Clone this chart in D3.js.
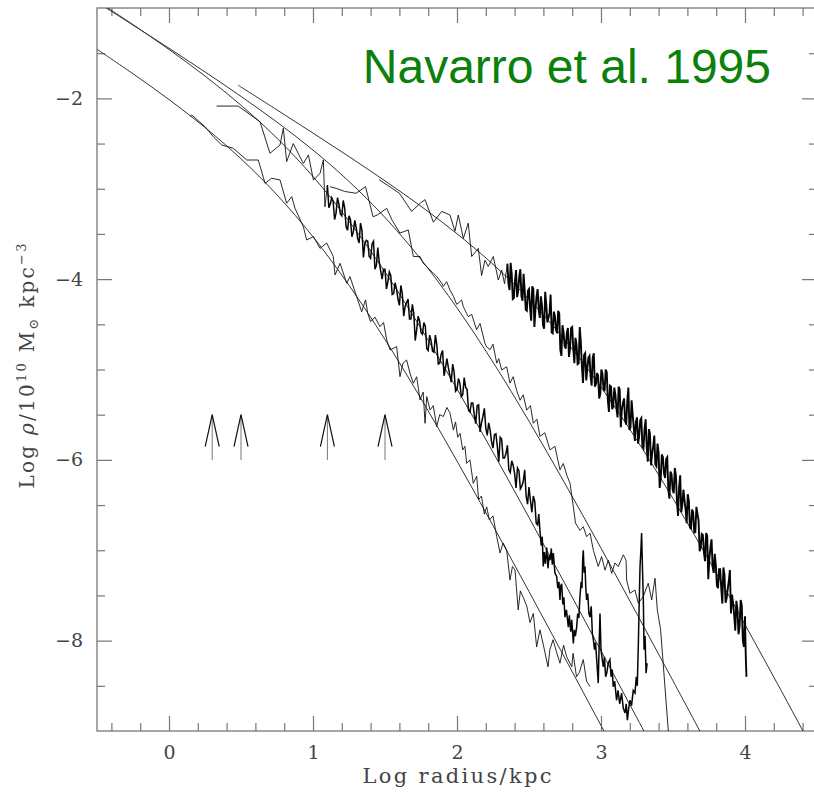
<!DOCTYPE html>
<html><head><meta charset="utf-8">
<script src="https://cdn.jsdelivr.net/npm/d3@7"></script>
<style>body{margin:0;background:#fff}svg{display:block}</style>
</head><body>
<svg id="chart" width="814" height="798"></svg>
<script>
// ---------- axes / ticks ----------
const xDomain = [-0.5, 4.5];
const yDomain = [-9, -1];
const xMajor = [0, 1, 2, 3, 4];
const xMinor = [-0.4, -0.2, 0.2, 0.4, 0.6, 0.8, 1.2, 1.4, 1.6, 1.8, 2.2, 2.4, 2.6, 2.8, 3.2, 3.4, 3.6, 3.8, 4.2, 4.4];
const yMajor = [-8, -6, -4, -2];
const yMinor = [-8.5, -7.5, -7, -6.5, -5.5, -5, -4.5, -3.5, -3, -2.5, -1.5];
const xTitle = "Log radius/kpc";
const titleText = "Navarro et al. 1995";

// ---------- arrows (log r positions, from / to in log rho) ----------
const arrowX = [0.3, 0.5, 1.1, 1.5];
const arrowY = [-6.0, -5.5];

// ---------- smooth fitted profiles [log r, log rho] ----------
const fitA = [[0.48,-1.854],[0.75,-2.128],[1.0,-2.384],[1.25,-2.644],[1.5,-2.913],[1.75,-3.194],[2.0,-3.498],[2.25,-3.836],[2.5,-4.223],[2.75,-4.674],[3.0,-5.195],[3.25,-5.784],[3.5,-6.428],[3.75,-7.112],[4.0,-7.823],[4.25,-8.550],[4.4,-8.992],[4.5,-9.29]];
const fitB = [[-0.5,-0.935],[-0.25,-1.189],[0,-1.445],[0.25,-1.707],[0.5,-1.978],[0.75,-2.263],[1.0,-2.572],[1.25,-2.919],[1.5,-3.318],[1.75,-3.782],[2.0,-4.318],[2.25,-4.919],[2.5,-5.572],[2.75,-6.263],[3.0,-6.977],[3.25,-7.707],[3.5,-8.445],[3.75,-9.189]];
const fitC = [[-0.5,-0.92],[-0.25,-1.184],[0,-1.459],[0.25,-1.753],[0.5,-2.076],[0.75,-2.441],[1.0,-2.865],[1.25,-3.358],[1.5,-3.921],[1.75,-4.545],[2.0,-5.215],[2.25,-5.916],[2.5,-6.638],[2.75,-7.372],[3.0,-8.112],[3.25,-8.857],[3.5,-9.60]];
const fitD = [[-0.5,-1.457],[-0.25,-1.728],[0,-2.013],[0.25,-2.322],[0.5,-2.669],[0.75,-3.068],[1.0,-3.532],[1.25,-4.068],[1.5,-4.669],[1.75,-5.322],[2.0,-6.013],[2.25,-6.727],[2.5,-7.457],[2.75,-8.195],[3.0,-8.939],[3.25,-9.68]];

// ---------- simulated profiles [log r, log rho] ----------
const dataA = [[1.46,-2.90],[1.535,-2.98],[1.60,-3.05],[1.685,-3.25],[1.745,-3.16],[1.778,-3.12],[1.836,-3.37],[1.894,-3.25],[1.951,-3.29],[1.986,-3.47],[2.009,-3.29],[2.044,-3.55],[2.078,-3.38],[2.102,-3.75],[2.148,-3.66],[2.171,-3.96],[2.194,-3.79],[2.217,-3.86],[2.252,-3.75],[2.287,-4.01],[2.31,-3.90],[2.33,-4.05],
[2.350,-3.83],[2.3575,-4.05],[2.365,-4.12],[2.3725,-3.82],[2.380,-3.94],[2.3875,-4.22],[2.395,-4.21],[2.4025,-4.02],[2.410,-3.90],[2.4175,-4.20],[2.425,-4.13],[2.4325,-3.97],[2.440,-3.89],[2.4475,-4.19],[2.455,-4.24],[2.4625,-3.94],[2.470,-4.12],[2.4775,-4.34],[2.485,-4.35],[2.4925,-4.13],
[2.500,-4.11],[2.5075,-4.32],[2.515,-4.46],[2.5225,-4.08],[2.530,-4.11],[2.5375,-4.53],[2.545,-4.33],[2.5525,-4.19],[2.560,-4.11],[2.5675,-4.34],[2.575,-4.43],[2.5825,-4.19],[2.590,-4.29],[2.5975,-4.51],[2.605,-4.55],[2.6125,-4.14],[2.620,-4.28],[2.6275,-4.48],[2.635,-4.43],[2.6425,-4.38],
[2.650,-4.17],[2.6575,-4.59],[2.665,-4.60],[2.6725,-4.36],[2.680,-4.41],[2.6875,-4.56],[2.695,-4.60],[2.7025,-4.35],[2.710,-4.38],[2.7175,-4.78],[2.725,-4.85],[2.7325,-4.51],[2.740,-4.59],[2.7475,-4.74],[2.755,-4.77],[2.7625,-4.60],[2.770,-4.54],[2.7775,-4.86],[2.785,-4.77],[2.7925,-4.54],
[2.800,-4.53],[2.8075,-4.77],[2.815,-4.93],[2.8225,-4.65],[2.830,-4.72],[2.8375,-4.94],[2.845,-4.93],[2.8525,-4.53],[2.860,-4.70],[2.8675,-4.97],[2.875,-5.15],[2.8825,-4.84],[2.890,-4.82],[2.8975,-5.12],[2.905,-4.99],[2.9125,-4.87],[2.920,-4.85],[2.9275,-5.07],[2.935,-5.18],[2.9425,-4.87],
[2.950,-4.82],[2.9575,-5.19],[2.965,-5.16],[2.9725,-5.04],[2.980,-5.07],[2.9875,-5.32],[2.995,-5.27],[3.0025,-5.00],[3.010,-5.05],[3.0175,-5.21],[3.025,-5.24],[3.0325,-5.00],[3.040,-5.03],[3.0475,-5.34],[3.055,-5.47],[3.0625,-5.18],[3.070,-5.19],[3.0775,-5.44],[3.085,-5.41],[3.0925,-5.20],
[3.100,-5.28],[3.1075,-5.43],[3.115,-5.53],[3.1225,-5.19],[3.130,-5.22],[3.1375,-5.64],[3.145,-5.44],[3.1525,-5.37],[3.160,-5.32],[3.1675,-5.56],[3.175,-5.61],[3.1825,-5.35],[3.190,-5.20],[3.1975,-5.67],[3.205,-5.64],[3.2125,-5.34],[3.220,-5.50],[3.2275,-5.64],[3.235,-5.79],[3.2425,-5.58],
[3.250,-5.53],[3.2575,-5.82],[3.265,-5.74],[3.2725,-5.56],[3.280,-5.54],[3.2875,-5.85],[3.295,-5.87],[3.3025,-5.66],[3.310,-5.55],[3.3175,-5.86],[3.325,-6.02],[3.3325,-5.66],[3.340,-5.71],[3.3475,-6.06],[3.355,-5.93],[3.3625,-5.85],[3.370,-5.73],[3.3775,-6.05],[3.385,-6.07],[3.3925,-5.82],
[3.400,-5.92],[3.4075,-6.31],[3.415,-6.20],[3.4225,-5.94],[3.430,-5.97],[3.4375,-6.15],[3.445,-6.20],[3.4525,-5.99],[3.460,-5.97],[3.4675,-6.33],[3.475,-6.43],[3.4825,-6.13],[3.490,-6.16],[3.4975,-6.33],[3.505,-6.37],[3.5125,-6.09],[3.520,-6.17],[3.5275,-6.46],[3.535,-6.62],[3.5425,-6.30],
[3.550,-6.17],[3.5575,-6.58],[3.565,-6.49],[3.5725,-6.33],[3.580,-6.45],[3.5875,-6.55],[3.595,-6.70],[3.6025,-6.38],[3.610,-6.45],[3.6175,-6.75],[3.625,-6.76],[3.6325,-6.55],[3.640,-6.58],[3.6475,-6.80],[3.655,-6.80],[3.6625,-6.52],[3.670,-6.60],[3.6775,-6.67],[3.685,-7.01],[3.6925,-6.97],
[3.700,-6.82],[3.7075,-6.83],[3.715,-7.03],[3.7225,-7.12],[3.730,-6.81],[3.7375,-6.84],[3.745,-7.32],[3.7525,-7.09],[3.760,-6.97],[3.7675,-6.88],[3.775,-7.18],[3.7825,-7.25],[3.790,-7.04],[3.7975,-7.17],[3.805,-7.39],[3.8125,-7.42],[3.820,-7.21],[3.8275,-7.21],[3.835,-7.42],[3.8425,-7.59],
[3.850,-7.19],[3.8575,-7.27],[3.865,-7.58],[3.8725,-7.53],[3.880,-7.43],[3.8875,-7.34],[3.895,-7.22],[3.9025,-7.70],[3.910,-7.49],[3.9175,-7.59],[3.925,-7.72],[3.9325,-7.89],[3.940,-7.56],[3.9475,-7.65],[3.955,-7.93],[3.9625,-7.84],[3.970,-7.55],[3.9775,-7.61],[3.985,-8.00],[3.9925,-8.07],
[4.000,-7.73],[4.005,-8.15],[4.010,-8.40]];

const dataB = [[1.118,-2.977],[1.17,-3.0],[1.22,-3.03],[1.30,-3.05],[1.365,-2.977],[1.417,-3.31],[1.447,-3.29],[1.512,-3.216],[1.55,-3.35],[1.604,-3.49],[1.662,-3.456],[1.697,-3.75],[1.743,-3.75],[1.766,-3.825],[1.801,-3.88],[1.836,-3.935],[1.859,-3.97],[1.894,-4.046],[1.905,-4.08],[1.928,-4.028],[1.951,-4.12],[1.975,-4.19],[1.998,-4.28],[2.032,-4.23],[2.044,-4.305],[2.067,-4.38],[2.078,-4.415],[2.102,-4.39],[2.136,-4.56],[2.16,-4.49],[2.194,-4.71],[2.206,-4.75],[2.23,-4.78],[2.25,-4.72],[2.276,-4.93],[2.29,-4.88],[2.31,-5.005],[2.345,-4.97],[2.368,-5.15],[2.39,-5.08],[2.414,-5.23],[2.438,-5.34],[2.46,-5.28],[2.484,-5.45],[2.51,-5.40],[2.53,-5.595],[2.555,-5.55],[2.576,-5.74],[2.61,-5.70],[2.646,-5.89],[2.68,-5.85],[2.715,-6.11],[2.738,-6.04],[2.765,-6.18],[2.785,-6.26],[2.808,-6.52],[2.823,-6.70],[2.854,-6.78],[2.877,-6.74],[2.90,-6.85],[2.924,-6.81],[2.947,-7.0],[2.981,-7.18],[3.004,-7.07],[3.028,-7.22],[3.051,-7.11],[3.074,-7.255],[3.097,-7.14],[3.12,-7.18],[3.155,-7.05],[3.174,-7.11],[3.178,-7.33],[3.201,-7.476],[3.236,-7.44],[3.259,-7.587],[3.294,-7.51],[3.328,-7.365],[3.352,-7.55],[3.375,-7.31],[3.391,-7.66],[3.414,-7.88],[3.467,-8.99],[3.475,-9.2]];

const dataC = [[0.33,-2.085],[0.48,-2.085],[0.632,-2.258],[0.701,-2.608],[0.771,-2.516],[0.794,-2.331],[0.817,-2.70],[0.863,-2.50],[0.933,-2.72],[0.968,-2.626],[1.003,-2.903],[1.049,-2.83],[1.072,-2.68],[1.083,-3.20],
[1.10,-2.96],[1.11,-3.21],[1.12,-3.17],[1.13,-3.10],[1.14,-3.14],[1.15,-3.34],[1.16,-3.27],[1.17,-3.10],[1.18,-3.17],[1.19,-3.28],[1.20,-3.30],[1.21,-3.13],[1.22,-3.21],[1.23,-3.42],[1.24,-3.46],[1.25,-3.30],[1.26,-3.34],[1.27,-3.53],[1.28,-3.48],[1.29,-3.35],
[1.30,-3.43],[1.31,-3.55],[1.32,-3.60],[1.33,-3.38],[1.34,-3.46],[1.35,-3.76],[1.36,-3.61],[1.37,-3.57],[1.38,-3.58],[1.39,-3.75],[1.40,-3.77],[1.41,-3.61],[1.42,-3.58],[1.43,-3.89],[1.44,-3.85],[1.45,-3.65],[1.46,-3.81],[1.47,-3.91],[1.48,-4.00],[1.49,-3.89],
[1.50,-3.89],[1.51,-4.11],[1.52,-4.03],[1.53,-3.92],[1.54,-3.96],[1.55,-4.17],[1.56,-4.16],[1.57,-4.04],[1.58,-4.11],[1.59,-4.22],[1.60,-4.29],[1.61,-4.07],[1.62,-4.16],[1.63,-4.41],[1.64,-4.30],[1.65,-4.26],[1.66,-4.22],[1.67,-4.44],[1.68,-4.44],[1.69,-4.28],
[1.70,-4.38],[1.71,-4.68],[1.72,-4.56],[1.73,-4.41],[1.74,-4.46],[1.75,-4.59],[1.76,-4.61],[1.77,-4.48],[1.78,-4.52],[1.79,-4.77],[1.80,-4.79],[1.81,-4.62],[1.82,-4.68],[1.83,-4.80],[1.84,-4.81],[1.85,-4.62],[1.86,-4.73],[1.87,-4.94],[1.88,-4.93],[1.89,-4.83],
[1.90,-4.79],[1.91,-5.07],[1.92,-4.98],[1.93,-4.88],[1.94,-4.98],[1.95,-5.06],[1.96,-5.14],[1.97,-4.94],[1.98,-5.03],[1.99,-5.24],[2.00,-5.22],[2.01,-5.10],[2.02,-5.15],[2.03,-5.30],[2.04,-5.28],[2.05,-5.09],[2.06,-5.20],[2.07,-5.22],[2.08,-5.45],[2.09,-5.47],
[2.10,-5.37],[2.11,-5.37],[2.12,-5.50],[2.13,-5.60],[2.14,-5.40],[2.15,-5.39],[2.16,-5.69],[2.17,-5.59],[2.18,-5.52],[2.19,-5.43],[2.20,-5.65],[2.21,-5.73],[2.22,-5.59],[2.23,-5.67],[2.24,-5.80],[2.25,-5.87],[2.26,-5.72],[2.27,-5.71],[2.28,-5.85],[2.29,-6.02],
[2.30,-5.75],[2.31,-5.77],[2.32,-5.98],[2.33,-5.98],[2.34,-5.93],[2.35,-5.84],[2.36,-6.11],[2.37,-6.14],[2.38,-6.01],[2.39,-6.06],[2.40,-6.15],[2.41,-6.31],[2.42,-6.09],[2.43,-6.12],[2.44,-6.32],[2.45,-6.29],[2.46,-6.24],[2.47,-6.11],[2.48,-6.40],[2.49,-6.49],
[2.50,-6.30],[2.51,-6.45],[2.52,-6.58],[2.53,-6.40],[2.54,-6.46],[2.55,-6.70],[2.56,-6.72],[2.568,-6.60],
[2.576,-6.78],[2.585,-6.95],[2.592,-6.85],[2.599,-7.18],[2.606,-7.02],[2.614,-7.15],[2.623,-6.97],[2.632,-7.20],[2.64,-7.05],[2.646,-7.11],[2.655,-6.98],[2.662,-7.16],[2.669,-7.03],[2.68,-7.25],[2.692,-7.29],[2.70,-7.42],[2.708,-7.35],[2.715,-7.55],[2.72,-7.40],[2.727,-7.37],[2.735,-7.60],[2.742,-7.52],[2.75,-7.74],[2.76,-7.66],[2.773,-7.85],[2.78,-7.72],[2.79,-7.90],[2.797,-7.77],[2.808,-8.03],[2.815,-7.88],[2.822,-7.95],[2.831,-7.85],[2.838,-7.70],[2.846,-7.75],[2.854,-7.51],[2.862,-7.35],[2.868,-7.42],[2.873,-7.10],[2.877,-7.00],[2.883,-7.25],[2.889,-7.18],[2.894,-7.40],[2.90,-7.55],[2.908,-7.48],[2.916,-7.70],[2.924,-7.74],[2.932,-7.62],[2.94,-7.92],[2.947,-7.99],[2.955,-8.10],[2.962,-8.02],[2.97,-8.21],[2.976,-8.35],[2.981,-8.47],[2.987,-8.05],[2.993,-7.70],[3.0,-8.10],[3.008,-8.20],[3.016,-8.29],[3.024,-8.18],[3.032,-8.40],[3.04,-8.36],[3.05,-8.25],[3.062,-8.21],[3.07,-8.40],[3.078,-8.32],[3.085,-8.51],[3.095,-8.45],[3.108,-8.66],[3.118,-8.55],[3.13,-8.70],[3.143,-8.58],[3.155,-8.75],[3.167,-8.80],[3.175,-8.70],[3.183,-8.88],[3.192,-8.75],[3.201,-8.66],[3.212,-8.72],[3.224,-8.55],[3.236,-8.58],[3.245,-8.40],[3.252,-8.50],[3.259,-8.07],[3.265,-7.60],[3.271,-7.18],[3.277,-7.00],[3.282,-6.81],[3.288,-7.20],[3.294,-7.55],[3.299,-8.10],[3.306,-7.95],[3.313,-8.36],[3.32,-8.25]];

const dataD = [[0.146,-2.20],[0.158,-2.184],[0.25,-2.313],[0.308,-2.424],[0.366,-2.516],[0.446,-2.552],[0.54,-2.682],[0.62,-2.682],[0.667,-2.94],[0.713,-2.884],[0.771,-2.903],[0.817,-3.16],[0.852,-3.088],[0.875,-3.216],[0.933,-3.42],[0.956,-3.567],[1.003,-3.53],[1.049,-3.66],[1.095,-3.60],[1.141,-3.75],[1.153,-3.954],[1.188,-3.825],[1.234,-4.046],[1.257,-3.973],[1.303,-4.194],[1.338,-4.36],[1.365,-4.23],[1.38,-4.378],[1.40,-4.47],[1.43,-4.42],[1.465,-4.526],[1.49,-4.48],[1.512,-4.673],[1.535,-4.784],[1.581,-4.747],[1.604,-5.079],[1.625,-4.93],[1.65,-4.895],[1.675,-5.05],[1.697,-5.152],[1.72,-5.08],[1.743,-5.337],[1.765,-5.25],[1.778,-5.595],[1.79,-5.30],[1.813,-5.448],[1.835,-5.40],[1.859,-5.632],[1.88,-5.50],[1.905,-5.52],[1.93,-5.42],[1.951,-5.48],[1.975,-5.67],[1.99,-5.58],[2.005,-5.75],[2.021,-5.706],[2.04,-5.89],[2.055,-5.85],[2.067,-6.038],[2.09,-6.00],[2.113,-6.26],[2.137,-6.18],[2.15,-6.44],[2.17,-6.40],[2.19,-6.60],[2.206,-6.52],[2.225,-6.665],[2.25,-6.62],[2.276,-6.85],[2.299,-7.03],[2.32,-6.92],[2.345,-6.997],[2.368,-7.33],[2.385,-7.18],[2.403,-7.22],[2.425,-7.66],[2.44,-7.45],[2.46,-7.52],[2.485,-7.62],[2.507,-7.80],[2.53,-7.70],[2.553,-8.07],[2.576,-7.88],[2.60,-8.05],[2.632,-8.29],[2.645,-8.10],[2.667,-7.99],[2.69,-8.12],[2.715,-8.25],[2.74,-8.05],[2.762,-8.18],[2.797,-8.29],[2.806,-8.14],[2.83,-8.40],[2.85,-8.35],[2.877,-8.21],[2.90,-8.45],[2.924,-8.51]];

// ---------- drawing ----------
const svg = d3.select("#chart");
const x = d3.scaleLinear().domain(xDomain).range([97, 817]);
const y = d3.scaleLinear().domain(yDomain).range([731, 8]);
const serif = "'DejaVu Serif', 'Liberation Serif', serif";
const frameColor = "#777";
const textColor = "#444";

svg.append("defs").append("clipPath").attr("id", "plotclip")
  .append("rect").attr("x", x(xDomain[0])).attr("y", y(yDomain[1]))
  .attr("width", x(xDomain[1]) - x(xDomain[0])).attr("height", y(yDomain[0]) - y(yDomain[1]));

function styleAxis(g, fs) {
  g.attr("color", frameColor).attr("font-family", serif).attr("font-size", fs);
  g.select(".domain").remove();
  g.selectAll(".tick line").attr("stroke-width", 1.2);
  g.selectAll("text").attr("fill", textColor);
}
function addAxis(axis, tx, ty, fs) {
  svg.append("g").attr("transform", `translate(${tx},${ty})`).call(axis).call(g => styleAxis(g, fs));
}
const bx = y(yDomain[0]), tY = y(yDomain[1]), lx = x(xDomain[0]), rx = x(xDomain[1]);
addAxis(d3.axisBottom(x).tickValues(xMajor).tickSizeInner(-15).tickSizeOuter(0).tickPadding(15).tickFormat(d3.format("d")), 0, bx, 19);
addAxis(d3.axisBottom(x).tickValues(xMinor).tickSizeInner(-8).tickSizeOuter(0).tickFormat(""), 0, bx, 19);
addAxis(d3.axisTop(x).tickValues(xMajor).tickSizeInner(-15).tickSizeOuter(0).tickFormat(""), 0, tY, 19);
addAxis(d3.axisTop(x).tickValues(xMinor).tickSizeInner(-8).tickSizeOuter(0).tickFormat(""), 0, tY, 19);
addAxis(d3.axisLeft(y).tickValues(yMajor).tickSizeInner(-15).tickSizeOuter(0).tickPadding(14).tickFormat(d3.format("d")), lx, 0, 19);
addAxis(d3.axisLeft(y).tickValues(yMinor).tickSizeInner(-8).tickSizeOuter(0).tickFormat(""), lx, 0, 19);
addAxis(d3.axisRight(y).tickValues(yMajor).tickSizeInner(-15).tickSizeOuter(0).tickFormat(""), rx, 0, 19);
addAxis(d3.axisRight(y).tickValues(yMinor).tickSizeInner(-8).tickSizeOuter(0).tickFormat(""), rx, 0, 19);

// frame
svg.append("rect")
  .attr("x", lx).attr("y", tY).attr("width", rx - lx).attr("height", bx - tY)
  .attr("fill", "none").attr("stroke", frameColor).attr("stroke-width", 1.3);

const plot = svg.append("g").attr("clip-path", "url(#plotclip)");
const smooth = d3.line().x(d => x(d[0])).y(d => y(d[1])).curve(d3.curveCatmullRom.alpha(0.5));
const jag = d3.line().x(d => x(d[0])).y(d => y(d[1]));

[fitA, fitB, fitC, fitD].forEach(f => {
  plot.append("path").attr("d", smooth(f)).attr("fill", "none")
    .attr("stroke", "#333").attr("stroke-width", 1);
});
// each profile: thin line where sampling is sparse, heavier where it is densely sampled
function drawProfile(dd, split, thin, thick) {
  const i = dd.findIndex(d => d[0] >= split);
  const a = i < 0 ? dd : dd.slice(0, i + 1), b = i < 0 ? [] : dd.slice(i);
  plot.append("path").attr("d", jag(a)).attr("fill", "none")
    .attr("stroke", "#111").attr("stroke-width", thin);
  if (b.length > 1) plot.append("path").attr("d", jag(b)).attr("fill", "none")
    .attr("stroke", "#050505").attr("stroke-width", thick);
}
drawProfile(dataD, 99, 0.9, 0.9);
drawProfile(dataB, 99, 0.9, 0.9);
drawProfile(dataC, 1.095, 0.9, 1.5);
drawProfile(dataA, 2.345, 0.9, 1.9);

// arrows
arrowX.forEach(ax => {
  const px = x(ax), yb = y(arrowY[0]), yt = y(arrowY[1]);
  svg.append("line").attr("x1", px).attr("x2", px).attr("y1", yb).attr("y2", yt)
    .attr("stroke", "#777").attr("stroke-width", 1);
  svg.append("path").attr("d", `M${px - 7},${yt + 32}L${px},${yt}L${px + 7},${yt + 32}`)
    .attr("fill", "none").attr("stroke", "#111").attr("stroke-width", 1.2);
});

// axis titles
svg.append("text").attr("x", 457).attr("y", 783).attr("text-anchor", "middle")
  .attr("font-family", serif).attr("font-size", 21).attr("fill", textColor)
  .attr("textLength", 189).attr("lengthAdjust", "spacing").text(xTitle);

const yl = svg.append("text").attr("transform", "translate(34,366) rotate(-90)")
  .attr("text-anchor", "middle").attr("font-family", serif).attr("font-size", 20)
  .attr("fill", textColor);
yl.append("tspan").text("Log ");
yl.append("tspan").attr("font-style", "italic").text("ρ");
yl.append("tspan").text("/10");
yl.append("tspan").attr("dy", -8).attr("font-size", 13).text("10");
yl.append("tspan").attr("dy", 8).text(" M");
yl.append("tspan").attr("dy", 4).attr("font-size", 13).text("⊙");
yl.append("tspan").attr("dy", -4).text(" kpc");
yl.append("tspan").attr("dy", -8).attr("font-size", 13).text("−3");
yl.attr("textLength", 245).attr("lengthAdjust", "spacing");

// title
svg.append("text").attr("x", 771).attr("y", 83).attr("text-anchor", "end")
  .attr("font-family", "'Liberation Sans', Arial, sans-serif").attr("font-size", 48)
  .attr("fill", "#0b800b").text(titleText);
</script>
</body></html>
